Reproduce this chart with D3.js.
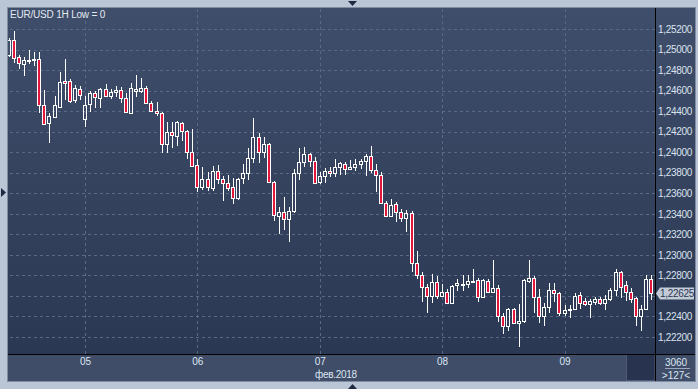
<!DOCTYPE html>
<html>
<head>
<meta charset="utf-8">
<script src="https://cdn.jsdelivr.net/npm/d3@7"></script>
<style>
	body { margin: 0; background: #bac6d6; }
	svg { display: block; }
</style>
</head>
<body>
<div id="widget"></div>
<script>
/* EUR/USD hourly candles, 127 bars */
var title = "EUR/USD 1H Low = 0";
var monthLabel = "фев.2018";
var dayTicks = [15, 37, 61, 85, 109];
var dayLabels = ["05", "06", "07", "08", "09"];
var priceTicks = [1.222, 1.224, 1.226, 1.228, 1.230, 1.232, 1.234, 1.236, 1.238, 1.240, 1.242, 1.244, 1.246, 1.248, 1.250, 1.252];
var lastPrice = 1.22625;
var counterTop = "3060";
var counterBottom = ">127<";

var opens = [1.24946, 1.25093, 1.24927, 1.24859, 1.24893, 1.24898, 1.24907, 1.24459, 1.24283, 1.24342,
	1.24439, 1.24693, 1.24693, 1.24507, 1.24615, 1.24322, 1.24468, 1.24576, 1.24527, 1.24615,
	1.24546, 1.24585, 1.24605, 1.24527, 1.24381, 1.24595, 1.24595, 1.24624, 1.24478, 1.24400,
	1.24381, 1.24078, 1.24195, 1.24156, 1.24283, 1.24205, 1.24000, 1.23873, 1.23659, 1.23737,
	1.23649, 1.23815, 1.23737, 1.23698, 1.23659, 1.23551, 1.23746, 1.23795, 1.23942, 1.24146,
	1.24000, 1.24078, 1.23707, 1.23376, 1.23415, 1.23346, 1.23424, 1.23795, 1.23902, 1.23981,
	1.23912, 1.23707, 1.23766, 1.23815, 1.23795, 1.23854, 1.23883, 1.23834, 1.23854, 1.23883,
	1.23912, 1.23961, 1.23824, 1.23776, 1.23503, 1.23376, 1.23493, 1.23415, 1.23356, 1.23405,
	1.22917, 1.22800, 1.22683, 1.22595, 1.22732, 1.22595, 1.22634, 1.22527, 1.22703, 1.22712,
	1.22712, 1.22732, 1.22751, 1.22586, 1.22742, 1.22634, 1.22673, 1.22400, 1.22303, 1.22468,
	1.22332, 1.22351, 1.22742, 1.22771, 1.22586, 1.22400, 1.22488, 1.22654, 1.22625, 1.22429,
	1.22464, 1.22468, 1.22605, 1.22546, 1.22517, 1.22537, 1.22566, 1.22527, 1.22566, 1.22654,
	1.22829, 1.22703, 1.22634, 1.22576, 1.22400, 1.22468, 1.22761];

var highs = [1.25112, 1.25181, 1.24946, 1.24927, 1.24995, 1.24976, 1.24976, 1.24605, 1.24381, 1.24546,
	1.24781, 1.24907, 1.24712, 1.24654, 1.24644, 1.24546, 1.24595, 1.24595, 1.24624, 1.24663,
	1.24615, 1.24644, 1.24634, 1.24576, 1.24673, 1.24751, 1.24722, 1.24644, 1.24498, 1.24488,
	1.24390, 1.24293, 1.24293, 1.24303, 1.24293, 1.24215, 1.24224, 1.23932, 1.23854, 1.23805,
	1.23863, 1.23873, 1.23766, 1.23776, 1.23746, 1.23746, 1.23883, 1.24039, 1.24332, 1.24185,
	1.24146, 1.24088, 1.23717, 1.23464, 1.23561, 1.23464, 1.23834, 1.24039, 1.24049, 1.23990,
	1.23951, 1.23805, 1.23844, 1.23854, 1.23932, 1.23902, 1.23902, 1.23922, 1.23932, 1.23932,
	1.23981, 1.24059, 1.23883, 1.23805, 1.23522, 1.23542, 1.23512, 1.23444, 1.23434, 1.23424,
	1.23034, 1.22829, 1.22712, 1.22810, 1.22790, 1.22712, 1.22664, 1.22703, 1.22761, 1.22800,
	1.22800, 1.22859, 1.22771, 1.22761, 1.22761, 1.22946, 1.22703, 1.22429, 1.22478, 1.22478,
	1.22517, 1.22761, 1.22946, 1.22790, 1.22664, 1.22527, 1.22722, 1.22722, 1.22634, 1.22507,
	1.22507, 1.22625, 1.22634, 1.22576, 1.22566, 1.22586, 1.22586, 1.22605, 1.22673, 1.22859,
	1.22839, 1.22742, 1.22673, 1.22586, 1.22507, 1.22800, 1.22800];

var lows = [1.24927, 1.24868, 1.24810, 1.24742, 1.24859, 1.24839, 1.24381, 1.24264, 1.24088, 1.24332,
	1.24429, 1.24507, 1.24478, 1.24478, 1.24507, 1.24244, 1.24390, 1.24429, 1.24429, 1.24537,
	1.24517, 1.24537, 1.24478, 1.24381, 1.24371, 1.24537, 1.24576, 1.24468, 1.24390, 1.24351,
	1.23990, 1.23990, 1.24039, 1.24059, 1.24107, 1.23932, 1.23854, 1.23610, 1.23629, 1.23620,
	1.23620, 1.23688, 1.23522, 1.23620, 1.23493, 1.23532, 1.23688, 1.23727, 1.23893, 1.23893,
	1.23942, 1.23698, 1.23327, 1.23200, 1.23239, 1.23122, 1.23405, 1.23727, 1.23854, 1.23854,
	1.23688, 1.23688, 1.23698, 1.23756, 1.23756, 1.23776, 1.23776, 1.23824, 1.23815, 1.23834,
	1.23766, 1.23795, 1.23610, 1.23493, 1.23366, 1.23366, 1.23317, 1.23317, 1.23220, 1.22829,
	1.22761, 1.22537, 1.22429, 1.22527, 1.22566, 1.22586, 1.22517, 1.22517, 1.22644, 1.22644,
	1.22673, 1.22722, 1.22537, 1.22576, 1.22625, 1.22625, 1.22342, 1.22234, 1.22254, 1.22322,
	1.22107, 1.22332, 1.22722, 1.22429, 1.22332, 1.22303, 1.22429, 1.22537, 1.22400, 1.22400,
	1.22381, 1.22459, 1.22468, 1.22498, 1.22381, 1.22507, 1.22507, 1.22459, 1.22546, 1.22595,
	1.22576, 1.22546, 1.22527, 1.22312, 1.22254, 1.22459, 1.22556];

var closes = [1.25093, 1.24917, 1.24868, 1.24898, 1.24898, 1.24903, 1.24459, 1.24273, 1.24351, 1.24459,
	1.24683, 1.24673, 1.24498, 1.24624, 1.24556, 1.24459, 1.24576, 1.24537, 1.24615, 1.24546,
	1.24585, 1.24605, 1.24527, 1.24390, 1.24624, 1.24615, 1.24624, 1.24478, 1.24400, 1.24381,
	1.24078, 1.24195, 1.24166, 1.24293, 1.24205, 1.24000, 1.23863, 1.23659, 1.23737, 1.23659,
	1.23815, 1.23737, 1.23698, 1.23649, 1.23551, 1.23737, 1.23795, 1.23942, 1.24146, 1.24000,
	1.24078, 1.23707, 1.23385, 1.23415, 1.23346, 1.23424, 1.23795, 1.23902, 1.23981, 1.23912,
	1.23698, 1.23766, 1.23815, 1.23795, 1.23854, 1.23893, 1.23834, 1.23854, 1.23883, 1.23912,
	1.23961, 1.23824, 1.23776, 1.23503, 1.23376, 1.23483, 1.23415, 1.23356, 1.23405, 1.22917,
	1.22800, 1.22683, 1.22595, 1.22732, 1.22595, 1.22634, 1.22527, 1.22693, 1.22722, 1.22717,
	1.22742, 1.22746, 1.22586, 1.22751, 1.22634, 1.22673, 1.22400, 1.22303, 1.22468, 1.22332,
	1.22351, 1.22751, 1.22771, 1.22586, 1.22400, 1.22488, 1.22654, 1.22625, 1.22429, 1.22459,
	1.22468, 1.22595, 1.22527, 1.22517, 1.22546, 1.22566, 1.22527, 1.22566, 1.22654, 1.22829,
	1.22683, 1.22634, 1.22566, 1.22400, 1.22468, 1.22761, 1.22625];

// frame geometry
var W = 698, H = 389;
var pLeft = 8, pTop = 8, pRight = 655, pBottom = 354, aBottom = 381, edge = 695;
var font = "'Liberation Sans', Arial, sans-serif";
var red = "#e3163c";

var dataset = [];
for (var i = 0; i < opens.length; i++) {
	dataset.push({ i: i, o: opens[i], h: highs[i], l: lows[i], c: closes[i] });
}

var x = d3.scaleLinear().domain([0, opens.length - 1]).range([8.6, 651.2]);
var y = d3.scaleLinear().domain([1.222, 1.252]).range([337, 29]);

var svg = d3.select("#widget")
	.append("svg")
	.attr("width", W)
	.attr("height", H);

var defs = svg.append("defs");
var grad = defs.append("linearGradient")
	.attr("id", "bg")
	.attr("x1", 0).attr("y1", 0).attr("x2", 0).attr("y2", 1);
grad.append("stop").attr("offset", "0%").attr("stop-color", "#3f4e6b");
grad.append("stop").attr("offset", "100%").attr("stop-color", "#2b3853");

defs.append("clipPath").attr("id", "plotclip")
	.append("rect")
	.attr("x", pLeft).attr("y", pTop)
	.attr("width", pRight - pLeft).attr("height", pBottom - pTop);

// outer light frame
svg.append("rect").attr("width", W).attr("height", H).attr("fill", "#bac6d6");
svg.append("rect")
	.attr("x", pLeft - 0.5).attr("y", pTop - 0.5)
	.attr("width", edge - pLeft + 1).attr("height", aBottom - pTop + 1)
	.attr("fill", "none").attr("stroke", "#7f8ca2");

// panels
svg.append("rect").attr("x", pLeft).attr("y", pTop)
	.attr("width", pRight - pLeft).attr("height", pBottom - pTop).attr("fill", "url(#bg)");
svg.append("rect").attr("x", pRight).attr("y", pTop)
	.attr("width", edge - pRight).attr("height", pBottom - pTop).attr("fill", "url(#bg)");
svg.append("rect").attr("x", pLeft).attr("y", pBottom)
	.attr("width", edge - pLeft).attr("height", aBottom - pBottom).attr("fill", "#3f4d68");
svg.append("rect").attr("x", 626.5).attr("y", pBottom + 0.5)
	.attr("width", pRight - 626.5).attr("height", aBottom - pBottom - 1)
	.attr("fill", "#28344f").attr("stroke", "#4d5b76");

// grid lines
var hGrid = svg.append("g")
	.attr("transform", "translate(" + pRight + ",0)")
	.call(d3.axisLeft(y).tickValues(priceTicks).tickSize(pRight - pLeft - 2).tickFormat(""));
var vGrid = svg.append("g")
	.attr("transform", "translate(0," + pBottom + ")")
	.call(d3.axisBottom(x).tickValues(dayTicks).tickSize(-(pBottom - pTop)).tickFormat(""));
[hGrid, vGrid].forEach(function(g) {
	g.select(".domain").remove();
	g.selectAll("line")
		.attr("stroke", "#5a6985")
		.attr("stroke-dasharray", "3,3")
		.attr("shape-rendering", "crispEdges");
});

// candles
var candles = svg.append("g")
	.attr("clip-path", "url(#plotclip)")
	.attr("shape-rendering", "crispEdges")
	.selectAll("g")
	.data(dataset)
	.enter()
	.append("g");

function cx(d) { return Math.round(x(d.i)); }
function bodyTop(d) { return Math.round(y(Math.max(d.o, d.c))); }
function bodyBot(d) { return Math.max(Math.round(y(Math.min(d.o, d.c))), bodyTop(d) + 1); }

candles.append("line")
	.attr("x1", cx).attr("x2", cx)
	.attr("y1", function(d) { return y(d.h); })
	.attr("y2", bodyTop)
	.attr("stroke", "#fff");
candles.append("line")
	.attr("x1", cx).attr("x2", cx)
	.attr("y1", bodyBot)
	.attr("y2", function(d) { return y(d.l); })
	.attr("stroke", "#fff");
candles.append("rect")
	.attr("x", function(d) { return cx(d) - 1.5; })
	.attr("y", function(d) { return bodyTop(d) + 0.5; })
	.attr("width", 3)
	.attr("height", function(d) { return bodyBot(d) - bodyTop(d); })
	.attr("fill", function(d) { return d.c < d.o ? red : "none"; })
	.attr("stroke", "#fff");

// axis separators
svg.append("line").attr("x1", pRight + 0.5).attr("x2", pRight + 0.5)
	.attr("y1", pTop).attr("y2", aBottom).attr("stroke", "#000");
svg.append("line").attr("x1", pLeft).attr("x2", edge)
	.attr("y1", pBottom + 0.5).attr("y2", pBottom + 0.5).attr("stroke", "#000");

// price labels (the one under the last price marker is hidden, as in the terminal)
var ly = Math.round(y(lastPrice));
var yAxis = svg.append("g")
	.attr("transform", "translate(" + pRight + ",0)")
	.call(d3.axisRight(y).tickValues(priceTicks).tickSize(0).tickPadding(3)
		.tickFormat(function(d) { return d3.format(".5f")(d).replace(".", ","); }));
yAxis.select(".domain").remove();
yAxis.selectAll(".tick")
	.filter(function(d) { return Math.abs(y(d) - ly) < 12; })
	.remove();
yAxis.selectAll("text")
	.attr("fill", "#dbe3ef")
	.style("font-family", font)
	.style("font-size", "10px")
	.style("letter-spacing", "-0.3px");

// last price marker
svg.append("path")
	.attr("d", "M656," + (ly + 0.5) + "L660," + (ly - 5.5) + "L694," + (ly - 5.5) + "L694," + (ly + 6.5) + "L660," + (ly + 6.5) + "Z")
	.attr("fill", "#c3cbd7");
svg.append("text")
	.attr("x", 660).attr("y", ly + 0.5).attr("dy", "0.35em")
	.attr("fill", "#2b3752")
	.style("font-family", font).style("font-size", "10px").style("letter-spacing", "-0.3px")
	.text(d3.format(".5f")(lastPrice).replace(".", ","));

// day labels
var xAxis = svg.append("g")
	.attr("transform", "translate(0," + pBottom + ")")
	.call(d3.axisBottom(x).tickValues(dayTicks).tickSize(0).tickPadding(4)
		.tickFormat(function(d, k) { return dayLabels[k]; }));
xAxis.select(".domain").remove();
xAxis.selectAll("text")
	.attr("fill", "#dce5f2")
	.style("font-family", font)
	.style("font-size", "10px");

svg.append("text")
	.attr("x", 315).attr("y", 377.5)
	.attr("fill", "#dce5f2")
	.style("font-family", font).style("font-size", "10px").style("letter-spacing", "-0.3px")
	.text(monthLabel);

// bar counter cell
svg.append("text").attr("x", 676).attr("y", 365.5).attr("text-anchor", "middle")
	.attr("fill", "#dce5f2").style("font-family", font).style("font-size", "10px")
	.text(counterTop);
svg.append("line").attr("x1", 665).attr("x2", 690).attr("y1", 368.5).attr("y2", 368.5)
	.attr("stroke", "#9aa8be");
svg.append("text").attr("x", 676).attr("y", 378.5).attr("text-anchor", "middle")
	.attr("fill", "#dce5f2").style("font-family", font).style("font-size", "10px")
	.text(counterBottom);

// title
svg.append("text")
	.attr("x", 10).attr("y", 18)
	.attr("fill", "#e4e9f1")
	.style("font-family", font).style("font-size", "10px").style("letter-spacing", "-0.2px")
	.text(title);

// scroll markers
svg.append("path").attr("d", "M348,1L357,1L352.5,6Z").attr("fill", "#1f2a42");
svg.append("path").attr("d", "M1,188L1,197L6,192.5Z").attr("fill", "#1f2a42");
svg.append("path").attr("d", "M348,389L357,389L352.5,384Z").attr("fill", "#1f2a42");
</script>
</body>
</html>
